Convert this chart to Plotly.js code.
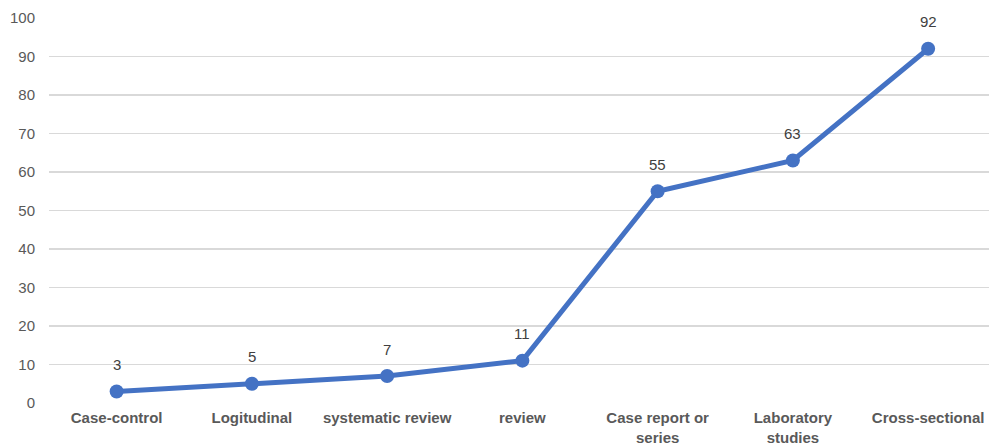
<!DOCTYPE html>
<html>
<head>
<meta charset="utf-8">
<script src="https://cdn.plot.ly/plotly-3.0.1.min.js"></script>
<style>html,body{margin:0;padding:0;background:#fff;}#chart{width:989px;height:448px;}</style>
</head>
<body>
<div id="chart"></div>
<script>
var categories = ["Case-control", "Logitudinal", "systematic review", "review", "Case report or<br>series", "Laboratory<br>studies", "Cross-sectional"];
var values = [3, 5, 7, 11, 55, 63, 92];
var yTicks = [0, 10, 20, 30, 40, 50, 60, 70, 80, 90, 100];

var trace = {
  x: categories,
  y: values,
  type: "scatter",
  mode: "lines+markers",
  line: {color: "#4472C4", width: 5},
  marker: {color: "#4472C4", size: 14},
  hoverinfo: "x+y"
};

var annotations = categories.map(function (c, i) {
  return {
    x: c, y: values[i], text: String(values[i]),
    showarrow: false, yshift: 27,
    font: {family: "Liberation Sans, Arial, sans-serif", size: 15, color: "#404040"}
  };
});

var layout = {
  width: 989, height: 448,
  margin: {l: 49, r: 0, t: 18, b: 45},
  paper_bgcolor: "#fff", plot_bgcolor: "#fff",
  showlegend: false,
  xaxis: {
    type: "category",
    range: [-0.5, 6.45],
    showgrid: false, showline: false, zeroline: false,
    ticks: "", ticklabelstandoff: 4,
    tickfont: {family: "Liberation Sans, Arial, sans-serif", size: 15, color: "#595959", weight: "bold"}
  },
  yaxis: {
    range: [0, 100],
    tickvals: yTicks,
    showgrid: true, gridcolor: "#d9d9d9", gridwidth: 1.3,
    zeroline: false, showline: false, ticks: "", ticklabelstandoff: 13,
    tickfont: {family: "Liberation Sans, Arial, sans-serif", size: 15, color: "#595959"}
  },
  annotations: annotations
};

Plotly.newPlot("chart", [trace], layout, {displayModeBar: false, staticPlot: true});
</script>
</body>
</html>
